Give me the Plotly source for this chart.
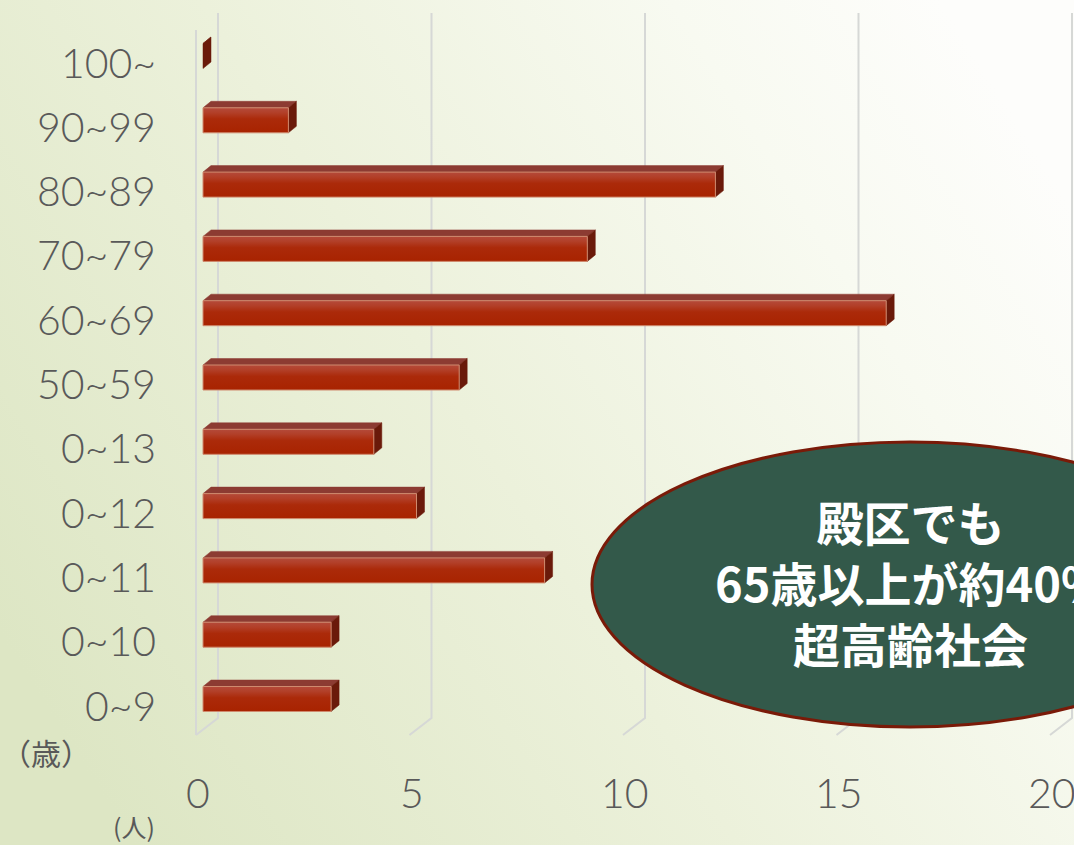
import base64
import plotly.graph_objects as go

# ---------------- data ----------------
age_groups = ["0~9", "0~10", "0~11", "0~12", "0~13", "50~59",
              "60~69", "70~79", "80~89", "90~99", "100~"]
people = [3, 3, 8, 5, 4, 6, 16, 9, 12, 2, 0]
x_ticks = [0, 5, 10, 15, 20]
y_unit_label = "（歳）"
x_unit_label = "(人)"
callout_lines = ["殿区でも", "65歳以上が約40%", "超高齢社会"]

# ---------------- geometry (pixel-derived scale) ----------------
W, H = 1074, 845
PX_X = 42.7          # pixels per person
PX_Y = 64.3          # pixels per category
X0_PX = 203          # pixel of value 0 on bar plane
Y0_PX = 699          # pixel of first category centre
x_range = [-X0_PX / PX_X, (W - X0_PX) / PX_X]
y_range = [(Y0_PX - H) / PX_Y, Y0_PX / PX_Y]

half_h = 12.5 / PX_Y
dx = 8 / PX_X
dy = 6.5 / PX_Y

fig = go.Figure()

# ---------------- 3D grid walls ----------------
front_off = -7 / PX_X
back_off = 15 / PX_X
back_top = (Y0_PX - 13) / PX_Y
back_bot = (Y0_PX - 718) / PX_Y
front_bot = (Y0_PX - 735) / PX_Y
front_top = (Y0_PX - 30) / PX_Y
gx, gy = [], []
for v in x_ticks:
    gx += [v + back_off, v + back_off, v + front_off, None]
    gy += [back_top, back_bot, front_bot, None]
gx += [x_ticks[0] + front_off, x_ticks[0] + front_off, None]
gy += [front_top, front_bot, None]
fig.add_trace(go.Scatter(x=gx, y=gy, mode="lines",
                         line=dict(color="#d6d8d6", width=2),
                         hoverinfo="skip", showlegend=False))

# ---------------- 3D bars ----------------
for k, v in enumerate(people):
    yb, yt = k - half_h, k + half_h
    # top face
    fig.add_trace(go.Scatter(
        x=[0, v, v + dx, dx, 0], y=[yt, yt, yt + dy, yt + dy, yt],
        fill="toself", fillcolor="#8c3b32", mode="lines",
        line=dict(color="#8c3b32", width=0.5),
        hoverinfo="skip", showlegend=False))
    # side (end) face
    fig.add_trace(go.Scatter(
        x=[v, v, v + dx, v + dx, v], y=[yb, yt, yt + dy, yb + dy, yb],
        fill="toself", fillcolor="#6a1a0a", mode="lines",
        line=dict(color="#6a1a0a", width=0.5),
        hoverinfo="skip", showlegend=False))
    # front face
    if v > 0:
        fig.add_trace(go.Scatter(
            x=[0, v, v, 0, 0], y=[yb, yb, yt, yt, yb],
            fill="toself", mode="lines",
            fillgradient=dict(type="vertical",
                              colorscale=[[0, "#a82300"], [0.55, "#ab2a0a"],
                                          [0.8, "#b23f28"], [1, "#b44a3a"]]),
            line=dict(color="#cf8a6e", width=1),
            hoverinfo="skip", showlegend=False))

# ---------------- labels ----------------
label_font = dict(family="Lato, Noto Sans, sans-serif", size=41,
                  color="#595959", weight=300)
annotations = []
for k, lab in enumerate(age_groups):
    annotations.append(dict(x=(158 - X0_PX) / PX_X, y=k, xref="x", yref="y",
                            text=lab, showarrow=False, xanchor="right",
                            yanchor="middle", yshift=-6, font=label_font))
for v in x_ticks:
    annotations.append(dict(x=v + front_off + 2 / PX_X, y=(Y0_PX - 792) / PX_Y,
                            xref="x", yref="y", text=str(v), showarrow=False,
                            xanchor="center", yanchor="middle", font=label_font))
annotations.append(dict(x=46 / W, y=1 - 752 / H, xref="paper", yref="paper",
                        text=y_unit_label, showarrow=False, xanchor="center",
                        yanchor="middle",
                        font=dict(family="Noto Sans CJK JP", size=30,
                                  color="#595959")))
annotations.append(dict(x=134 / W, y=1 - 826 / H, xref="paper", yref="paper",
                        text=x_unit_label, showarrow=False, xanchor="center",
                        yanchor="middle",
                        font=dict(family="Noto Sans CJK JP", size=25,
                                  color="#595959")))
annotations.append(dict(x=910 / W, y=1 - 581 / H, xref="paper", yref="paper",
                        text="<br>".join(callout_lines), showarrow=False,
                        xanchor="center", yanchor="middle", align="center",
                        font=dict(family="Noto Sans CJK JP", size=47,
                                  color="white", weight="bold")))

# ---------------- callout ellipse ----------------
shapes = [dict(type="circle", xref="paper", yref="paper",
               x0=592 / W, x1=1228 / W, y0=1 - 727 / H, y1=1 - 442 / H,
               fillcolor="#33594a", line=dict(color="#7a1a08", width=3),
               layer="above")]

# ---------------- background gradient ----------------
svg = f'''<svg xmlns="http://www.w3.org/2000/svg" width="{W}" height="{H}" viewBox="0 0 {W} {H}" preserveAspectRatio="none">
<defs><linearGradient id="g" x1="0" y1="0.75" x2="1" y2="0.25">
<stop offset="0" stop-color="#dde6c4"/>
<stop offset="0.45" stop-color="#ecf1db"/>
<stop offset="0.8" stop-color="#f8faf1"/>
<stop offset="1" stop-color="#fdfdfb"/>
</linearGradient></defs>
<rect width="{W}" height="{H}" fill="url(#g)"/></svg>'''
bg = "data:image/svg+xml;base64," + base64.b64encode(svg.encode()).decode()

fig.update_layout(
    width=W, height=H, margin=dict(l=0, r=0, t=0, b=0),
    paper_bgcolor="#eef2de", plot_bgcolor="rgba(0,0,0,0)",
    xaxis=dict(range=x_range, visible=False, fixedrange=True),
    yaxis=dict(range=y_range, visible=False, fixedrange=True),
    images=[dict(source=bg, xref="paper", yref="paper", x=0, y=1,
                 sizex=1, sizey=1, sizing="stretch", layer="below",
                 xanchor="left", yanchor="top")],
    annotations=annotations, shapes=shapes, showlegend=False,
)

fig.write_html("out.html")
